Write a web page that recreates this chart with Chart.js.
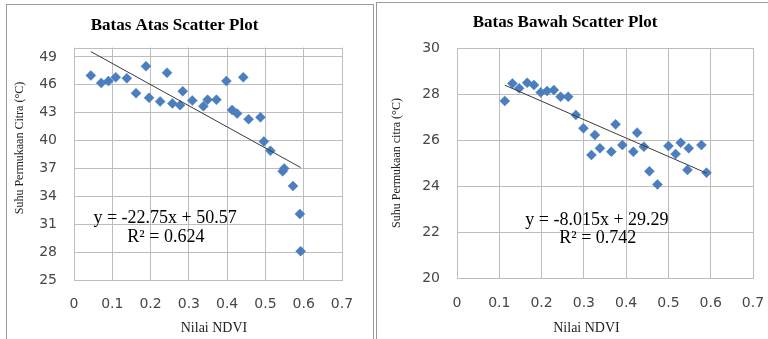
<!DOCTYPE html>
<html>
<head>
<meta charset="utf-8">
<script src="https://cdn.jsdelivr.net/npm/chart.js@4/dist/chart.umd.min.js"></script>
<style>
  html,body{margin:0;padding:0;background:#fff;width:768px;height:339px;overflow:hidden;position:relative;}
  .panel{position:absolute;border:1.5px solid #9a9a9a;border-bottom:none;box-sizing:border-box;}
  canvas{position:absolute;}
</style>
</head>
<body>
<div class="panel" style="left:6px;top:4px;width:368px;height:340px;"></div>
<div class="panel" style="left:376px;top:2px;width:400px;height:340px;"></div>
<canvas id="c1" width="366" height="334" style="left:7px;top:5px;"></canvas>
<canvas id="c2" width="391" height="336" style="left:377px;top:3px;"></canvas>
<script>
// ---- Data: Batas Atas (upper bound) ----
const atasNDVI = [0.044,0.071,0.090,0.109,0.138,0.162,0.188,0.196,0.225,0.243,0.257,0.277,0.284,0.309,0.338,0.349,0.372,0.398,0.413,0.426,0.442,0.456,0.487,0.496,0.513,0.545,0.549,0.572,0.590,0.592];
const atasSuhu = [47.0,46.2,46.4,46.8,46.7,45.1,48.0,44.6,44.2,47.3,44.0,43.8,45.3,44.3,43.7,44.4,44.4,46.4,43.3,42.9,46.8,42.3,42.5,39.9,38.9,36.7,37.0,35.1,32.1,28.1];
const atasSlope = -22.75, atasIntercept = 50.57, atasR2 = '0.624';

// ---- Data: Batas Bawah (lower bound) ----
const bawahNDVI = [0.113,0.131,0.147,0.166,0.182,0.198,0.213,0.229,0.245,0.263,0.281,0.299,0.318,0.326,0.338,0.365,0.375,0.391,0.417,0.426,0.442,0.455,0.474,0.500,0.517,0.529,0.545,0.548,0.578,0.590];
const bawahSuhu = [27.70,28.46,28.25,28.49,28.39,28.07,28.13,28.17,27.88,27.88,27.09,26.51,25.35,26.22,25.64,25.49,26.68,25.78,25.49,26.32,25.71,24.64,24.07,25.74,25.39,25.88,24.70,25.64,25.78,24.58];
const bawahSlope = -8.015, bawahIntercept = 29.29, bawahR2 = '0.742';

// ---- Tick labels ----
const xTicks = [0,0.1,0.2,0.3,0.4,0.5,0.6,0.7];
const atasYTicks = [25,28,31,34,37,40,43,46,49];
const bawahYTicks = [20,22,24,26,28,30];

const SERIF = '"Liberation Serif","Times New Roman",serif';
const SANS = '"DejaVu Sans","Liberation Sans",sans-serif';
const GRID = '#bdbdbd';
const BLUE = '#4a7ebf';

const textPlugin = {
  id: 'textPlugin',
  afterDraw(chart, args, opts) {
    const ctx = chart.ctx;
    const xs = chart.scales.x, ys = chart.scales.y;
    (opts.items || []).forEach(it => {
      ctx.save();
      ctx.font = it.font;
      ctx.fillStyle = it.color || '#000';
      ctx.textAlign = 'center';
      ctx.textBaseline = 'middle';
      let px = it.px, py = it.py;
      if (it.dx !== undefined) { px = xs.getPixelForValue(it.dx); py = ys.getPixelForValue(it.dy); }
      ctx.translate(px, py);
      if (it.rot) ctx.rotate(it.rot);
      ctx.fillText(it.text, 0, 0);
      ctx.restore();
    });
  }
};
const framePlugin = {
  id: 'frame',
  beforeDatasetsDraw(chart) {
    const a = chart.chartArea, ctx = chart.ctx;
    ctx.save();
    ctx.strokeStyle = GRID; ctx.lineWidth = 1;
    ctx.strokeRect(Math.round(a.left)+0.5, Math.round(a.top)+0.5, Math.round(a.right-a.left), Math.round(a.bottom-a.top));
    ctx.restore();
  }
};

function makeChart(id, cfg) {
  const pts = cfg.xs.map((x, i) => ({x: x, y: cfg.ys[i]}));
  const xmin = Math.min(...cfg.xs), xmax = Math.max(...cfg.xs);
  const trend = [xmin, xmax].map(x => ({x: x, y: cfg.slope * x + cfg.intercept}));
  return new Chart(document.getElementById(id), {
    type: 'scatter',
    data: {
      datasets: [
        {data: pts, pointStyle: 'rectRot', pointRadius: 5, pointHoverRadius: 5,
         backgroundColor: BLUE, borderColor: BLUE, borderWidth: 0.5, order: 2},
        {type: 'line', data: trend, showLine: true, pointRadius: 0, borderColor: '#3a3a3a',
         borderWidth: 1, fill: false, order: 1}
      ]
    },
    options: {
      responsive: false, animation: false, devicePixelRatio: 1,
      layout: {padding: {left: 0, right: cfg.padRight, top: 0, bottom: 0}},
      plugins: {
        legend: {display: false}, tooltip: {enabled: false},
        title: {display: true, text: cfg.title, color: '#000',
                font: {family: SERIF, size: 17, weight: 'bold', lineHeight: 1.2},
                padding: {top: cfg.titleTop, bottom: cfg.titleBottom}},
        textPlugin: {items: [
          {text: 'y = ' + cfg.slope + 'x + ' + cfg.intercept, font: '18px ' + SERIF, dx: cfg.eqX, dy: cfg.eqY},
          {text: 'R\u00B2 = ' + cfg.r2, font: '18px ' + SERIF, dx: cfg.eqX + 0.002, dy: cfg.r2Y},
          {text: 'Nilai NDVI', font: '14px ' + SERIF, px: cfg.xtX, py: cfg.xtY, color: '#222'},
          {text: cfg.ytitle, font: '12px ' + SERIF, px: cfg.ytX, py: cfg.ytY, rot: -Math.PI/2, color: '#222'}
        ]}
      },
      scales: {
        x: {
          type: 'linear', min: 0, max: 0.7,
          afterBuildTicks: s => { s.ticks = xTicks.map(v => ({value: v})); },
          afterFit: s => { s.height = cfg.xH; s.paddingLeft = 0; s.paddingRight = 0; },
          grid: {color: GRID, drawTicks: false, lineWidth: 1},
          border: {display: false},
          ticks: {padding: cfg.xPad, color: '#474747', font: {family: SANS, size: 14},
                  maxRotation: 0, callback: v => String(v)}
        },
        y: {
          type: 'linear', min: cfg.ymin, max: cfg.ymax,
          afterBuildTicks: s => { s.ticks = cfg.yTicks.map(v => ({value: v})); },
          afterFit: s => { s.width = cfg.yW; s.paddingTop = 0; s.paddingBottom = 0; },
          grid: {color: GRID, drawTicks: false, lineWidth: 1},
          border: {display: false},
          ticks: {padding: 17, color: '#474747', font: {family: SANS, size: 14}, callback: v => String(v)}
        }
      }
    },
    plugins: [textPlugin, framePlugin]
  });
}

makeChart('c1', {
  xs: atasNDVI, ys: atasSuhu, slope: atasSlope, intercept: atasIntercept, r2: atasR2,
  title: 'Batas Atas Scatter Plot', yTicks: atasYTicks, ymin: 25, ymax: 50,
  ytitle: 'Suhu Permukaan Citra (\u00B0C)',
  padRight: 31, titleTop: 10.5, titleBottom: 11.7, xH: 59, yW: 67, xPad: 16,
  eqX: 0.238, eqY: 31.68, r2Y: 29.63,
  xtX: 207, xtY: 323, ytX: 13, ytY: 143
});
makeChart('c2', {
  xs: bawahNDVI, ys: bawahSuhu, slope: bawahSlope, intercept: bawahIntercept, r2: bawahR2,
  title: 'Batas Bawah Scatter Plot', yTicks: bawahYTicks, ymin: 20, ymax: 30,
  ytitle: 'Suhu Permukaan citra (\u00B0C)',
  padRight: 15, titleTop: 9.5, titleBottom: 15.1, xH: 61, yW: 80, xPad: 17,
  eqX: 0.331, eqY: 22.52, r2Y: 21.74,
  xtX: 209.5, xtY: 325, ytX: 20, ytY: 160
});
</script>
</body>
</html>
